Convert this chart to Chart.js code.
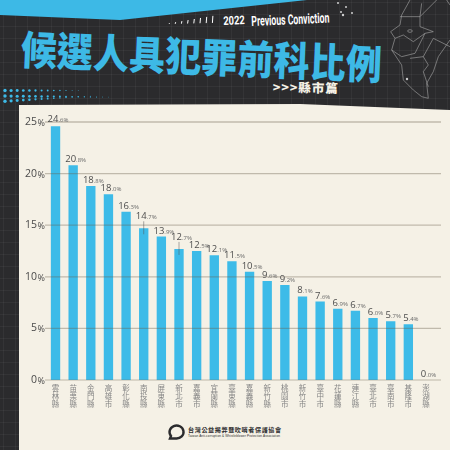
<!DOCTYPE html>
<html lang="zh-Hant">
<head>
<meta charset="utf-8">
<title>候選人具犯罪前科比例</title>
<script src="https://cdn.jsdelivr.net/npm/chart.js@4/dist/chart.umd.min.js"></script>
<style>
html,body{margin:0;padding:0;width:450px;height:450px;overflow:hidden;background:#2b2b2d}
#stage{position:relative;width:450px;height:450px;overflow:hidden;
 background-color:#2b2b2d;
 background-image:linear-gradient(rgba(255,255,255,.045) 1px,transparent 1px),linear-gradient(90deg,rgba(255,255,255,.045) 1px,transparent 1px);
 background-size:12px 12px;background-position:3px 2px}
#deco,#c{position:absolute;left:0;top:0}
.t{position:absolute;white-space:nowrap;transform-origin:left top}
#title{left:22px;top:22px;font:900 36px/44px "Noto Sans CJK TC";color:#3db9e6;transform:rotate(2.4deg) scaleY(1.12);letter-spacing:0.15px}
#yr{left:223px;top:14px;font:700 12px/14px "Roboto";color:#fff;transform:rotate(-2.5deg) scaleX(.78)}
#pc{left:251px;top:12.5px;font:700 14px/16px "Roboto";color:#fff;transform:rotate(-2.5deg) scaleX(.62)}
#sub{left:273px;top:79px;font:900 12.5px/16px "Noto Sans CJK TC";color:#f5f1e6;transform:rotate(.8deg);letter-spacing:.9px}
#org{left:188px;top:425px;font:700 6.1px/9px "Noto Sans CJK TC";color:#2b2b2d;letter-spacing:.6px}
#orgen{left:188px;top:434px;font:400 3.1px/5px "Liberation Sans";color:#2b2b2d;letter-spacing:.12px}
</style>
</head>
<body>
<div id="stage">
<svg id="deco" width="450" height="450" viewBox="0 0 450 450" xmlns="http://www.w3.org/2000/svg">
 <polygon points="0,0 307,0 120,20 0,15" fill="#3db9e6"/>
 <g id="dots" fill="#3db9e6"></g>
 <g id="marks" stroke="#fff" stroke-width="1"></g>
 <g transform="translate(300,0) scale(.3333)" fill="none" stroke="#a9a9a9" stroke-width="1.8" stroke-linejoin="round">
  <path d="M330,0 L305,45 L300,75 L272,95 L285,115 L275,150 L305,195 L310,240 L340,270 L365,290 L385,295 L380,250 L400,215 L415,170 L450,120"/>
  <path d="M300,50 L360,50 L365,10 M360,50 L360,80 L400,95 L375,100 L340,125 L310,105 L285,115"/>
  <path d="M275,150 L305,170 L345,160 L375,100"/>
  <path d="M330,175 L370,170 L400,115 L450,140"/>
  <path d="M370,170 L385,195 L370,215 L385,260"/>
  <path d="M360,50 L410,0 M440,0 L450,15"/>
  <ellipse cx="330" cy="93" rx="7" ry="4"/>
 </g>
 <g fill="#cfcfcf">
  <circle cx="338" cy="3" r="1"/><circle cx="346" cy="7" r="1"/><circle cx="341" cy="12" r="1"/><circle cx="352" cy="13" r="1"/><circle cx="343" cy="15" r="1.2"/><circle cx="407" cy="79" r="1.2"/>
 </g>
 <polygon points="19,105 300,104 450,110 450,450 19,450" fill="#f5f1e6"/>
 <g fill="none" stroke="#2b2b2d">
  <path d="M171,436 A7,6.5 0 1 1 176,438.5 L170,438.5 Z" stroke-width="2.4"/>
 </g>
</svg>
<div class="t" id="title">候選人具犯罪前科比例</div>
<div class="t" id="yr">2022</div>
<div class="t" id="pc">Previous Conviction</div>
<div class="t" id="sub">&gt;&gt;&gt;縣市篇</div>
<div class="t" id="org">台灣公益揭弊暨吹哨者保護協會</div>
<div class="t" id="orgen">Taiwan Anti-corruption &amp; Whistleblower Protection Association</div>
<canvas id="c" width="450" height="450"></canvas>
</div>
<script>
const categories = ["雲林縣","苗栗縣","金門縣","高雄市","彰化縣","南投縣","屏東縣","新北市","嘉義市","宜蘭縣","臺東縣","嘉義縣","新竹縣","桃園市","新竹市","臺中市","花蓮縣","連江縣","臺北市","臺南市","基隆市","澎湖縣"];
const rates = [24.6,20.8,18.8,18.0,16.3,14.7,13.9,12.7,12.5,12.1,11.5,10.5,9.6,9.2,8.1,7.6,6.9,6.7,6.0,5.7,5.4,0.0];
const yTicks = [0,5,10,15,20,25];
const leaderLabels = [5,7];

// decorative halftone and tick marks of the banner
const NS="http://www.w3.org/2000/svg";
const dots=document.getElementById('dots');
[[90.5,0],[96,.01],[101.5,-.06]].forEach(([y0,sl],row)=>{
  const n=[13,18,15][row];
  for(let i=0;i<n;i++){
    const x=5+i*6.1, c=document.createElementNS(NS,'circle');
    c.setAttribute('cx',x);c.setAttribute('cy',y0+sl*x);
    c.setAttribute('r',Math.max(.35,1.7-i*(row==1?.08:.11)));
    dots.appendChild(c);
  }
});
const marks=document.getElementById('marks');
for(let i=0;i<8;i++){
  const x=169+i*6.2,h=.8+i*.9,l=document.createElementNS(NS,'line');
  l.setAttribute('x1',x);l.setAttribute('x2',x+.5);l.setAttribute('y1',24-i*.15);l.setAttribute('y2',24-i*.15-h);
  marks.appendChild(l);
}

const BASE='"Open Sans","Noto Sans CJK TC",sans-serif';
const decorate={
  id:'decorate',
  afterDatasetsDraw(chart){
    const ctx=chart.ctx,y=chart.scales.y,x=chart.scales.x;
    ctx.save();
    yTicks.forEach(v=>{
      const py=y.getPixelForValue(v);
      ctx.strokeStyle=v===0?'rgba(120,112,92,.3)':'rgba(105,97,78,.38)';
      ctx.lineWidth=1.3;
      ctx.beginPath();ctx.moveTo(45,py);ctx.lineTo(441,py);ctx.stroke();
    });
    ctx.textBaseline='alphabetic';ctx.textAlign='left';
    ctx.fillStyle='#4a4a4a';ctx.font='9px '+BASE;
    yTicks.forEach(v=>ctx.fillText('%',37.5,y.getPixelForValue(v)+4));
    rates.forEach((v,i)=>{
      const px=x.getPixelForValue(i),top=y.getPixelForValue(v);
      const lift=leaderLabels.includes(i)?9:(i===0?4.5:3);
      const s=v.toFixed(1),whole=s.split('.')[0],rest='.'+s.split('.')[1]+'%';
      ctx.font='9.5px '+BASE;const w1=ctx.measureText(whole).width;
      ctx.font='6px '+BASE;const w2=ctx.measureText(rest).width;
      const left=px+2.5-(w1+w2)/2;
      ctx.fillStyle='#4d4d4d';ctx.font='9.5px '+BASE;ctx.fillText(whole,left,top-lift);
      ctx.fillStyle='#6a6a6a';ctx.font='6px '+BASE;ctx.fillText(rest,left+w1,top-lift);
      if(leaderLabels.includes(i)){
        ctx.strokeStyle='#555';ctx.lineWidth=.5;
        ctx.beginPath();ctx.moveTo(px,top-lift+2);ctx.lineTo(px,top+6);ctx.stroke();
      }
    });
    ctx.restore();
  }
};

new Chart(document.getElementById('c'),{
  type:'bar',
  data:{labels:categories,datasets:[{data:rates,backgroundColor:'#3dbbe8',borderWidth:0,barPercentage:.53,categoryPercentage:1}]},
  options:{
    responsive:false,animation:false,
    layout:{padding:{left:0,right:15.2,top:122,bottom:0}},
    plugins:{legend:{display:false},tooltip:{enabled:false},title:{display:false}},
    scales:{
      x:{
        grid:{display:false,drawTicks:false},border:{display:false},
        afterFit(s){s.height=70;},
        ticks:{autoSkip:false,maxRotation:0,minRotation:0,padding:4,color:'#858585',
          font:{family:'"Noto Sans CJK TC"',size:7.5,lineHeight:1.1},
          callback(v){return [...this.getLabelForValue(v)];}}
      },
      y:{
        min:0,max:25,
        grid:{display:false,drawTicks:false},border:{display:false},
        afterFit(s){s.width=46.7;},
        afterBuildTicks(s){s.ticks=yTicks.map(v=>({value:v}));},
        ticks:{padding:9.7,color:'#4a4a4a',font:{family:'"Open Sans"',size:10.5}}
      }
    }
  },
  plugins:[decorate]
});
</script>
</body>
</html>
